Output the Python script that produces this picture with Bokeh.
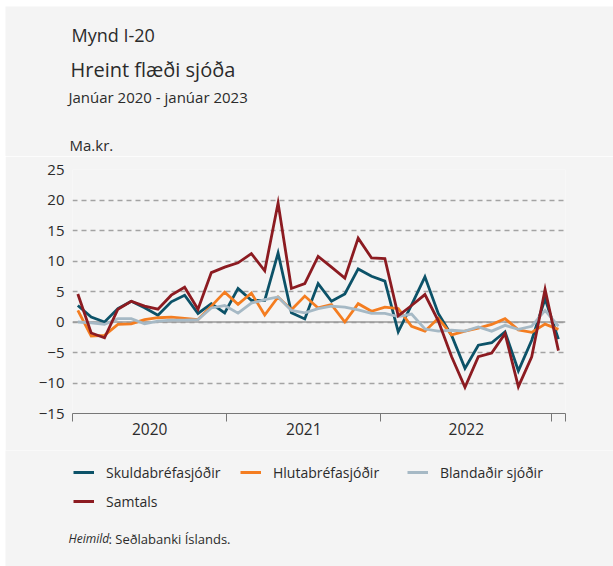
from bokeh.plotting import figure
from bokeh.layouts import column, row
from bokeh.models import (Range1d, FixedTicker, Span, Label, Legend, LegendItem, Spacer)
from bokeh.embed import file_html
from bokeh.resources import INLINE

# ---- data (Ma.kr., monthly Jan 2020 - Jan 2023) ----
months = list(range(37))
skuldabref = [2.7, 0.8, 0.0, 2.2, 3.4, 2.35, 1.1, 3.3, 4.4, 1.4, 3.0, 1.5,
              5.5, 3.55, 3.55, 11.3, 1.5, 0.5, 6.3, 3.4, 4.6, 8.7, 7.5, 6.7,
              -1.6, 2.8, 7.4, 1.4, -2.2, -7.6, -3.8, -3.4, -1.6, -8.0, -3.0, 3.8, -2.8]
hlutabref = [1.9, -2.3, -2.2, -0.4, -0.3, 0.4, 0.7, 0.8, 0.6, 0.4, 2.6, 4.9,
             2.9, 4.75, 1.15, 4.1, 2.0, 4.25, 2.3, 2.85, 0.0, 3.0, 1.75, 2.45,
             2.2, -0.7, -1.5, 0.6, -2.1, -1.5, -1.0, -0.4, 0.55, -1.3, -1.7, -0.35, -1.2]
blandadir = [0.0, -0.15, -0.4, 0.55, 0.55, -0.3, 0.15, 0.3, 0.3, 0.4, 2.3, 2.7,
             1.45, 3.1, 3.65, 4.1, 1.9, 1.5, 2.2, 2.6, 2.45, 2.0, 1.4, 1.4,
             0.9, 1.3, -1.15, -1.5, -1.35, -1.5, -0.8, -1.5, -0.55, -1.2, -0.7, 1.9, -0.7]
samtals = [4.6, -1.8, -2.6, 2.1, 3.4, 2.6, 2.1, 4.4, 5.7, 2.1, 8.1, 9.0,
           9.7, 11.2, 8.4, 19.5, 5.5, 6.3, 10.75, 9.0, 7.2, 13.75, 10.5, 10.4,
           1.0, 2.7, 4.5, 0.2, -5.7, -10.7, -5.7, -5.1, -1.9, -10.6, -5.7, 5.35, -4.7]

series_names = ["Skuldabréfasjóðir", "Hlutabréfasjóðir", "Blandaðir sjóðir", "Samtals"]
series_values = [skuldabref, hlutabref, blandadir, samtals]
series_colors = ["#0c5268", "#f47d20", "#a6b9c5", "#8c1b21"]

year_labels = ["2020", "2021", "2022"]
year_bounds = [-0.39, 11.15, 22.7, 35.5, 36.52]
y_ticks = [-15, -10, -5, 0, 5, 10, 15, 20, 25]

BG = "#f4f4f4"
FONT = "Open Sans"
TXT = "#2b2b2b"
W = 608

def plain(height, y_top, y_bot):
    f = figure(width=W, height=height, output_backend="svg", toolbar_location=None,
               x_range=Range1d(5, 5 + W), y_range=Range1d(y_bot, y_top),
               x_axis_type=None, y_axis_type=None,
               min_border=0, min_border_left=0, min_border_right=0,
               min_border_top=0, min_border_bottom=0)
    f.background_fill_color = BG
    f.border_fill_color = BG
    f.outline_line_color = None
    f.grid.visible = False
    f.frame_align = False
    return f

def add_label(f, x, y, text, size, style="normal"):
    f.add_layout(Label(x=x, y=y, text=text, text_font=FONT, text_font_size=size,
                       text_color=TXT, text_font_style=style,
                       text_baseline="alphabetic"))

# ---- header ----
head = plain(150, 6, 156)
add_label(head, 71, 34, "Mynd I-20", "18px")
add_label(head, 70, 68.5, "Hreint flæði sjóða", "20px")
add_label(head, 68, 96, "Janúar 2020 - janúar 2023", "15px")
add_label(head, 69, 144, "Ma.kr.", "15px")

# ---- main chart ----
p = figure(width=W, height=294, output_backend="svg", toolbar_location=None,
           x_range=Range1d(-0.4, 36.53), y_range=Range1d(-15, 25),
           min_border_left=67, min_border_right=48, min_border_top=13,
           min_border_bottom=37)
p.frame_align = False
p.background_fill_color = BG
p.border_fill_color = BG
p.outline_line_color = None

for vals, col in zip(series_values, series_colors):
    p.line(months, vals, line_color=col, line_width=2.8, line_join="miter")

p.xgrid.grid_line_color = None
p.ygrid.ticker = FixedTicker(ticks=y_ticks)
p.ygrid.grid_line_color = "#a3a3a3"
p.ygrid.grid_line_dash = "5 4"
p.ygrid.grid_line_width = 1.3
zero = Span(location=0, dimension="width", line_color="#9a9a9a", line_width=1.6,
            level="underlay")
p.add_layout(zero)

p.yaxis.ticker = FixedTicker(ticks=y_ticks)
p.yaxis.axis_line_color = None
p.yaxis.major_tick_line_color = None
p.yaxis.minor_tick_line_color = None
p.yaxis.major_tick_out = 0
p.yaxis.major_tick_in = 0
p.yaxis.minor_tick_out = 0
p.yaxis.minor_tick_in = 0
p.yaxis.major_label_standoff = 8
p.yaxis.major_label_text_font = FONT
p.yaxis.major_label_text_font_size = "15px"
p.yaxis.major_label_text_color = TXT

centers = [(year_bounds[i] + year_bounds[i + 1]) / 2 for i in range(3)]
p.xaxis.ticker = FixedTicker(ticks=centers, minor_ticks=year_bounds)
p.xaxis.major_label_overrides = {c: lab for c, lab in zip(centers, year_labels)}
p.xaxis.major_tick_in = 0
p.xaxis.major_tick_out = 0
p.xaxis.minor_tick_in = 0
p.xaxis.minor_tick_out = 8
p.xaxis.minor_tick_line_color = "#777777"
p.xaxis.axis_line_color = "#777777"
p.xaxis.axis_line_width = 1.2
p.xaxis.major_label_standoff = 1
p.xaxis.major_label_text_font = FONT
p.xaxis.major_label_text_font_size = "15.5px"
p.xaxis.major_label_text_color = TXT

# ---- footer with legend and source ----
foot = plain(116, 450, 566)
# legend proxies: same series, lying outside the footer's visible ranges
proxies = [foot.line(months, vals, line_color=c, line_width=3)
           for vals, c in zip(series_values, series_colors)]
items = [LegendItem(label=n, renderers=[r]) for n, r in zip(series_names, proxies)]
legend = Legend(items=items, location=(68, 55), orientation="horizontal", ncols=3,
                padding=0, margin=0, spacing=9, glyph_width=21, glyph_height=20,
                label_height=20, label_width=125, label_standoff=12,
                label_text_font=FONT, label_text_font_size="14px",
                label_text_color=TXT, border_line_alpha=0,
                background_fill_alpha=0)
foot.add_layout(legend)
add_label(foot, 68, 538, "Heimild", "12px", "italic")
add_label(foot, 108, 538, ": Seðlabanki Íslands.", "13px")

layout = row(Spacer(width=5), column(Spacer(height=6), head, p, foot, spacing=0),
             spacing=0)

open("out.html", "w").write(file_html(layout, INLINE))
